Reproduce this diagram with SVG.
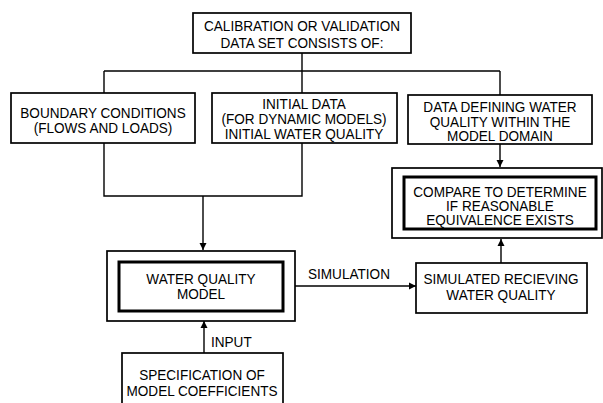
<svg xmlns="http://www.w3.org/2000/svg" width="603" height="403" viewBox="0 0 603 403">
<style>
.box{fill:#fff;stroke:#000;stroke-width:1.7}
.thick{fill:#fff;stroke:#000;stroke-width:3}
.ln{fill:none;stroke:#000;stroke-width:1.4}
.t{font-family:"Liberation Sans",Arial,sans-serif;font-size:14px;fill:#000;text-anchor:middle}
.tl{font-family:"Liberation Sans",Arial,sans-serif;font-size:14px;fill:#000}
</style>
<defs>
<marker id="ah" viewBox="0 0 10 10" refX="10" refY="5" markerWidth="7" markerHeight="14" markerUnits="userSpaceOnUse" orient="auto">
<path d="M0,0 L10,5 L0,10 z" fill="#000"/>
</marker>
</defs>
<rect width="603" height="403" fill="#fff"/>
<g id="connectors">
<path class="ln" d="M302,53 V71 M104,71 H500 M104,71 V196 H302 V71"/>
<path class="ln" d="M203,196 V250" marker-end="url(#ah)"/>
<path class="ln" d="M500,71 V95"/>
<path class="ln" d="M500,144 V167" marker-end="url(#ah)"/>
<path class="ln" d="M501,263 V239" marker-end="url(#ah)"/>
<path class="ln" d="M295,286 H416" marker-end="url(#ah)"/>
<path class="ln" d="M204,353 V321" marker-end="url(#ah)"/>
<text class="tl" transform="translate(308 0) scale(0.97 1)" y="279">SIMULATION</text>
<text class="tl" transform="translate(211 0) scale(0.97 1)" y="347">INPUT</text>
</g>
<g id="calibration">
<rect class="box" x="193" y="13" width="218" height="40"/>
<text class="t" transform="translate(302 0) scale(0.97 1)"><tspan x="0" y="31">CALIBRATION OR VALIDATION</tspan><tspan x="0" y="48">DATA SET CONSISTS OF:</tspan></text>
</g>
<g id="boundary">
<rect class="box" x="11" y="93" width="184" height="50"/>
<text class="t" transform="translate(103 0) scale(0.97 1)"><tspan x="0" y="118">BOUNDARY CONDITIONS</tspan><tspan x="0" y="133">(FLOWS AND LOADS)</tspan></text>
</g>
<g id="initial">
<rect class="box" x="212" y="93" width="185" height="50"/>
<text class="t" transform="translate(304 0) scale(0.97 1)"><tspan x="0" y="109">INITIAL DATA</tspan><tspan x="0" y="124">(FOR DYNAMIC MODELS)</tspan><tspan x="0" y="139">INITIAL WATER QUALITY</tspan></text>
</g>
<g id="datadefining">
<rect class="box" x="408" y="95" width="184" height="49"/>
<text class="t" transform="translate(500 0) scale(0.97 1)"><tspan x="0" y="112">DATA DEFINING WATER</tspan><tspan x="0" y="127">QUALITY WITHIN THE</tspan><tspan x="0" y="141">MODEL DOMAIN</tspan></text>
</g>
<g id="compare">
<rect class="box" x="392" y="168" width="210" height="70"/>
<rect class="thick" x="404" y="177" width="192" height="52"/>
<text class="t" transform="translate(500 0) scale(0.97 1)"><tspan x="0" y="197">COMPARE TO DETERMINE</tspan><tspan x="0" y="211">IF REASONABLE</tspan><tspan x="0" y="225">EQUIVALENCE EXISTS</tspan></text>
</g>
<g id="wqmodel">
<rect class="box" x="107" y="251" width="188" height="70"/>
<rect class="thick" x="119" y="262" width="164" height="49"/>
<text class="t" transform="translate(201 0) scale(0.97 1)"><tspan x="0" y="284">WATER QUALITY</tspan><tspan x="0" y="299">MODEL</tspan></text>
</g>
<g id="simulated">
<rect class="box" x="416" y="263" width="171" height="50"/>
<text class="t" transform="translate(501 0) scale(0.97 1)"><tspan x="0" y="284">SIMULATED RECIEVING</tspan><tspan x="0" y="300">WATER QUALITY</tspan></text>
</g>
<g id="specification">
<rect class="box" x="122" y="353" width="161" height="60"/>
<text class="t" transform="translate(202 0) scale(0.97 1)"><tspan x="0" y="380">SPECIFICATION OF</tspan><tspan x="0" y="396">MODEL COEFFICIENTS</tspan></text>
</g>
</svg>
